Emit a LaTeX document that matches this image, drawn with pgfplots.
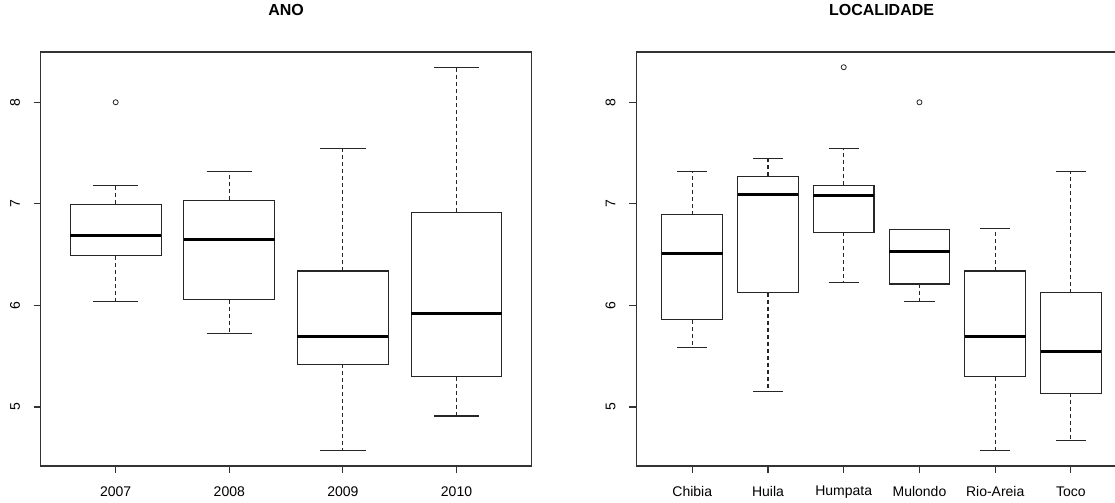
\documentclass[border=0pt]{standalone}
\usepackage{fontspec}
\setmainfont{Liberation Sans}
\usepackage{pgfplots}
\pgfplotsset{compat=1.18}
\usepgfplotslibrary{statistics}
\pgfplotsset{
  rbox/.style={
    scale only axis, anchor=south west,
    width=368.1pt, height=310.5pt,
    ymin=4.419, ymax=8.495,
    ytick={5,6,7,8},
    tick align=outside, major tick length=5.25pt,
    xtick pos=bottom, ytick pos=left,
    axis line style={line width=0.8pt, black!80},
    every tick/.style={line width=0.8pt, black!80},
    tick label style={font=\fontsize{10.5}{12}\selectfont},
    /pgf/number format/assume math mode=true,
    xticklabel style={anchor=center, yshift=-14pt},
    yticklabel style={anchor=center, xshift=-14pt, rotate=90},
    title style={at={(0.5,1)}, anchor=center, yshift=25.5pt, font=\fontsize{12}{14}\bfseries\selectfont},
    boxplot/draw direction=y,
    boxplot/box extend=0.8,
    boxplot/whisker extend=0.4,
    boxplot/every box/.style={draw=black!85, line width=0.8pt},
    boxplot/every median/.style={draw=black, line width=2.25pt},
    boxplot/every whisker/.style={draw=black!85, line width=0.8pt},
    boxplot/draw/lower whisker/.code={
      \draw[/pgfplots/boxplot/every whisker/.try, dash pattern=on 3pt off 2.25pt]
        (boxplot box cs:\pgfplotsboxplotvalue{lower quartile},0.5) --
        (boxplot box cs:\pgfplotsboxplotvalue{lower whisker},0.5);
      \draw[/pgfplots/boxplot/every whisker/.try]
        (boxplot whisker cs:\pgfplotsboxplotvalue{lower whisker},0) --
        (boxplot whisker cs:\pgfplotsboxplotvalue{lower whisker},1);
    },
    boxplot/draw/upper whisker/.code={
      \draw[/pgfplots/boxplot/every whisker/.try, dash pattern=on 3pt off 2.25pt]
        (boxplot box cs:\pgfplotsboxplotvalue{upper quartile},0.5) --
        (boxplot box cs:\pgfplotsboxplotvalue{upper whisker},0.5);
      \draw[/pgfplots/boxplot/every whisker/.try]
        (boxplot whisker cs:\pgfplotsboxplotvalue{upper whisker},0) --
        (boxplot whisker cs:\pgfplotsboxplotvalue{upper whisker},1);
    },
  },
  bx/.style={black!85, solid, mark=o, mark size=1.9pt, mark options={line width=0.6pt}},
}
\begin{document}
\begin{tikzpicture}
\useasboundingbox (0,0) rectangle (836.25pt,377.25pt);
\clip (0,0) rectangle (836.25pt,377.25pt);
% ---------- ANO ----------
\begin{axis}[rbox, at={(30.525pt,27.75pt)}, title={ANO},
  xmin=0.34, xmax=4.66, xtick={1,2,3,4}, xticklabels={2007,2008,2009,2010}]
\addplot[bx, boxplot prepared={lower whisker=6.04, lower quartile=6.487, median=6.687, upper quartile=6.996, upper whisker=7.18, draw position=1}] coordinates {(0,8.0)};
\addplot[bx, boxplot prepared={lower whisker=5.722, lower quartile=6.057, median=6.651, upper quartile=7.035, upper whisker=7.32, draw position=2}] coordinates {};
\addplot[bx, boxplot prepared={lower whisker=4.567, lower quartile=5.420, median=5.696, upper quartile=6.339, upper whisker=7.547, draw position=3}] coordinates {};
\addplot[bx, boxplot prepared={lower whisker=4.911, lower quartile=5.299, median=5.919, upper quartile=6.917, upper whisker=8.345, draw position=4}] coordinates {};
\end{axis}
% ---------- LOCALIDADE ----------
\begin{axis}[rbox, at={(477.15pt,27.75pt)}, title={LOCALIDADE},
  xmin=0.26, xmax=6.74, xtick={1,2,3,4,5,6}, xticklabels={Chibia,Huila,Humpata,Mulondo,Rio-Areia,Toco}]
\addplot[bx, boxplot prepared={lower whisker=5.584, lower quartile=5.857, median=6.513, upper quartile=6.891, upper whisker=7.32, draw position=1}] coordinates {};
\addplot[bx, boxplot prepared={lower whisker=5.151, lower quartile=6.126, median=7.094, upper quartile=7.271, upper whisker=7.449, draw position=2}] coordinates {};
\addplot[bx, boxplot prepared={lower whisker=6.228, lower quartile=6.72, median=7.081, upper quartile=7.183, upper whisker=7.547, draw position=3}] coordinates {(0,8.345)};
\addplot[bx, boxplot prepared={lower whisker=6.04, lower quartile=6.211, median=6.53, upper quartile=6.746, upper whisker=6.746, draw position=4}] coordinates {(0,8.0)};
\addplot[bx, boxplot prepared={lower whisker=4.567, lower quartile=5.299, median=5.696, upper quartile=6.339, upper whisker=6.759, draw position=5}] coordinates {};
\addplot[bx, boxplot prepared={lower whisker=4.672, lower quartile=5.135, median=5.548, upper quartile=6.126, upper whisker=7.32, draw position=6}] coordinates {};
\end{axis}
\end{tikzpicture}
\end{document}
